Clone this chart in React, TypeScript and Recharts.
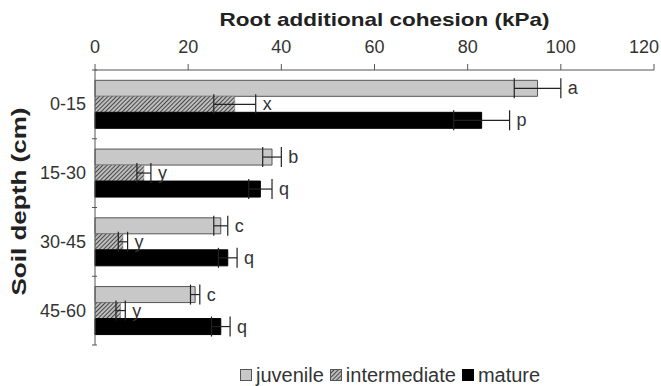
import React from "react";
import {
  BarChart,
  Bar,
  XAxis,
  YAxis,
  ErrorBar,
  LabelList,
  Legend,
} from "recharts";

const depths = ["0-15", "15-30", "30-45", "45-60"];
const juvenile = [95, 38, 27, 21.5];
const juvenileErr = [5, 2, 1.5, 1];
const intermediate = [30, 10.5, 6, 5.5];
const intermediateErr = [4.5, 1.5, 1, 1];
const mature = [83, 35.5, 28.5, 27];
const matureErr = [6, 2.5, 2, 2];
const juvenileLetters = ["a", "b", "c", "c"];
const intermediateLetters = ["x", "y", "y", "y"];
const matureLetters = ["p", "q", "q", "q"];
const xTicks = [0, 20, 40, 60, 80, 100, 120];

const data = depths.map((d, i) => ({
  depth: d,
  juvenile: juvenile[i],
  juvenileErr: juvenileErr[i],
  intermediate: intermediate[i],
  intermediateErr: intermediateErr[i],
  mature: mature[i],
  matureErr: matureErr[i],
}));

const W = 661;
const H = 386;
const M = { top: 40, right: 7, left: 15, bottom: 21 };
const LEGEND_H = 20;
const band = (H - M.top - 30 - M.bottom - LEGEND_H) / depths.length;

const txt = "#333";
const font = "Liberation Sans, Arial, sans-serif";

const KpaTick = (props: any) => {
  const { x, y, payload, index } = props;
  const last = index === xTicks.length - 1;
  return (
    <text
      x={last ? W - 2 : x}
      y={y}
      textAnchor={last ? "end" : "middle"}
      fontSize={18}
      fill={txt}
      fontFamily={font}
    >
      {payload.value}
    </text>
  );
};

const DepthTick = (props: any) => {
  const { x, y, payload, index } = props;
  const ax = x + 8;
  return (
    <g>
      <text x={x - 3} y={y} dy={6} textAnchor="end" fontSize={18} fill={txt} fontFamily={font}>
        {payload.value}
      </text>
      <line x1={ax - 5} x2={ax} y1={y - band / 2} y2={y - band / 2} stroke="#555" />
      {index === depths.length - 1 && (
        <line x1={ax - 5} x2={ax} y1={y + band / 2} y2={y + band / 2} stroke="#555" />
      )}
    </g>
  );
};

const XTitle = (props: any) => {
  const vb = props.viewBox;
  return (
    <text
      x={vb.x + vb.width / 2 + 10}
      y={vb.y - 14}
      textAnchor="middle"
      fontSize={19}
      fontWeight="bold"
      fill="#222"
      fontFamily={font}
      textLength={330}
      lengthAdjust="spacingAndGlyphs"
    >
      Root additional cohesion (kPa)
    </text>
  );
};

const YTitle = (props: any) => {
  const vb = props.viewBox;
  const cx = vb.x + 4;
  const cy = vb.y + vb.height / 2 - 6;
  return (
    <text
      x={cx}
      y={cy}
      transform={`rotate(-90 ${cx} ${cy})`}
      textAnchor="middle"
      dy={7}
      fontSize={20}
      fontWeight="bold"
      fill="#222"
      fontFamily={font}
      textLength={188}
      lengthAdjust="spacingAndGlyphs"
    >
      Soil depth (cm)
    </text>
  );
};

const letterLabel = (errs: number[], letters: string[]) => (props: any) => {
  const { x, y, width, height, index, value } = props;
  const end = x + (width * (value + errs[index])) / value;
  return (
    <text x={end + 7} y={y + height / 2} dy={6} fontSize={18} fill={txt} fontFamily={font}>
      {letters[index]}
    </text>
  );
};

const LegendBox = () => {
  const items = [
    { name: "juvenile", fill: "#c8c8c8", stroke: "#555" },
    { name: "intermediate", fill: "url(#hatch)", stroke: "#555" },
    { name: "mature", fill: "#000", stroke: "#000" },
  ];
  return (
    <div
      style={{
        display: "flex",
        alignItems: "center",
        height: LEGEND_H,
        lineHeight: `${LEGEND_H}px`,
        fontFamily: font,
        fontSize: 20,
        color: txt,
        whiteSpace: "nowrap",
      }}
    >
      {items.map((it) => (
        <span key={it.name} style={{ display: "flex", alignItems: "center", marginRight: 6 }}>
          <svg width={12} height={12} style={{ marginRight: 4 }}>
            <rect x={0.5} y={0.5} width={11} height={11} fill={it.fill} stroke={it.stroke} />
          </svg>
          {it.name}
        </span>
      ))}
    </div>
  );
};

export default function App() {
  return (
    <div style={{ position: "absolute", left: 0, top: 0, background: "#fff" }}>
      <BarChart
        width={W}
        height={H}
        data={data}
        layout="vertical"
        margin={M}
        barCategoryGap="15%"
        barGap={0}
      >
        <defs>
          <pattern id="hatch" patternUnits="userSpaceOnUse" width={3} height={3} patternTransform="rotate(45)">
            <rect width={3} height={3} fill="#bdbdbd" />
            <line x1={0} y1={0} x2={0} y2={3} stroke="#3a3a3a" strokeWidth={1.8} />
          </pattern>
        </defs>
        <XAxis
          type="number"
          orientation="top"
          domain={[0, 120]}
          ticks={xTicks}
          height={30}
          tickSize={6}
          tickMargin={11}
          stroke="#555"
          tick={<KpaTick />}
          label={<XTitle />}
        />
        <YAxis
          type="category"
          dataKey="depth"
          width={80}
          tickLine={false}
          stroke="#555"
          tick={<DepthTick />}
          tickMargin={0}
          label={<YTitle />}
        />
        <Legend
          verticalAlign="bottom"
          height={LEGEND_H}
          content={<LegendBox />}
          wrapperStyle={{ left: 240, bottom: 1, width: 360, height: LEGEND_H }}
        />
        <Bar dataKey="juvenile" fill="#c8c8c8" stroke="#555" strokeWidth={1} isAnimationActive={false}>
          <ErrorBar dataKey="juvenileErr" direction="x" width={10} stroke="#222" strokeWidth={1.2} />
          <LabelList dataKey="juvenile" content={letterLabel(juvenileErr, juvenileLetters)} />
        </Bar>
        <Bar dataKey="intermediate" fill="url(#hatch)" stroke="#777" strokeWidth={0.5} isAnimationActive={false}>
          <ErrorBar dataKey="intermediateErr" direction="x" width={10} stroke="#222" strokeWidth={1.2} />
          <LabelList dataKey="intermediate" content={letterLabel(intermediateErr, intermediateLetters)} />
        </Bar>
        <Bar dataKey="mature" fill="#000" stroke="#000" isAnimationActive={false}>
          <ErrorBar dataKey="matureErr" direction="x" width={10} stroke="#222" strokeWidth={1.2} />
          <LabelList dataKey="mature" content={letterLabel(matureErr, matureLetters)} />
        </Bar>
      </BarChart>
    </div>
  );
}
